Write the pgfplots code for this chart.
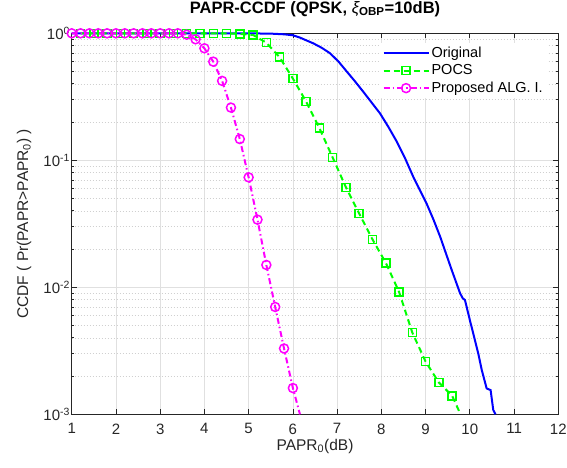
\documentclass[border=0pt]{standalone}
\usepackage{pgfplots}
\pgfplotsset{compat=1.18}
\usepackage{fontspec}
\setmainfont{Liberation Sans}
\definecolor{axgray}{HTML}{262626}
\definecolor{gridmaj}{HTML}{E0E0E0}
\definecolor{gridmin}{HTML}{D0D0D0}
\definecolor{mblue}{rgb}{0,0,1}
\definecolor{mgreen}{rgb}{0,1,0}
\definecolor{mmag}{rgb}{1,0,1}
\begin{document}
\begin{tikzpicture}
\useasboundingbox (-71.7pt,-52.7pt) rectangle (495.3pt,414.3pt);
\begin{axis}[
  at={(0pt,0pt)}, anchor=south west,
  scale only axis, width=486.6pt, height=381pt,
  xmin=1, xmax=12, ymin=1e-3, ymax=1,
  ymode=log,
  clip=false,
  /pgf/number format/assume math mode=true,
  xtick={1,2,3,4,5,6,7,8,9,10,11,12},
  ytick={0.001,0.01,0.1,1},
  yticklabels={10\textsuperscript{-3},10\textsuperscript{-2},10\textsuperscript{-1},10\textsuperscript{0}},
  minor ytick={0.002,0.003,0.004,0.005,0.006,0.007,0.008,0.009,0.02,0.03,0.04,0.05,0.06,0.07,0.08,0.09,0.2,0.3,0.4,0.5,0.6,0.7,0.8,0.9},
  grid=both,
  major grid style={draw=gridmaj, line width=0.7pt},
  minor grid style={draw=gridmin, line width=0.6pt, dash pattern=on 0.6pt off 2.4pt},
  axis line style={draw=axgray, line width=0.8pt},
  tick align=inside,
  major tick length=5pt, minor tick length=2.5pt,
  tick style={draw=axgray, line width=0.7pt},
  tick label style={font=\fontsize{15}{17}\selectfont, text=axgray},
  xticklabel style={yshift=-5.7pt},
  yticklabel style={inner sep=1.5pt},
  xlabel={PAPR\textsubscript{0}(dB)},
  xlabel style={at={(axis description cs:0.5,-0.0937)}, anchor=base, font=\fontsize{15.5}{17}\selectfont, text=axgray},
  ylabel={CCDF ( Pr(PAPR>PAPR\textsubscript{0}) )},
  ylabel style={at={(axis description cs:-0.0898,0.5)}, rotate=0, anchor=base, font=\fontsize{15.5}{17}\selectfont, text=axgray},
  title={PAPR-CCDF (QPSK,~{\mdseries\itshape ξ}\textsubscript{OBP}=10dB)},
  title style={at={(axis description cs:0.5,1.0367)}, anchor=base, font=\fontsize{16.5}{18}\selectfont\bfseries, text=black},
  legend style={at={(axis description cs:0.9788,0.974)}, anchor=north east, draw=none, fill=white,
    font=\fontsize{14.5}{16}\selectfont, inner xsep=3pt, inner ysep=1.5pt, row sep=1.8pt,
    nodes={inner sep=2pt}},
  legend cell align=left,
  legend image code/.code={\draw[mark repeat=2,mark phase=2,#1,mark indices={2}] plot coordinates {(0pt,0pt) (22.5pt,0pt) (45pt,0pt)};},
]
% Original
\addplot[color=mblue, line width=2pt, no marks] coordinates {
(1,1) (4,1) (5,0.999) (5.5,0.994) (5.8,0.982) (6.0,0.965) (6.16,0.925) (6.46,0.834) (6.65,0.77) (6.84,0.696)
(7.03,0.60) (7.22,0.499) (7.4,0.42) (7.59,0.347) (7.78,0.285) (7.97,0.234) (8.16,0.183) (8.35,0.140) (8.54,0.103) (8.72,0.0743) (9.02,0.0459)
(9.18,0.034) (9.33,0.0250) (9.46,0.0185) (9.59,0.0137) (9.78,0.00897) (9.84,0.0082) (9.89,0.00794) (10.00,0.00553)
(10.19,0.00302) (10.27,0.00223) (10.38,0.0016) (10.47,0.00155) (10.53,0.00108) (10.58,0.001)
};
\addlegendentry{Original}
% POCS
\addplot[color=mgreen, line width=2pt, dash pattern=on 6pt off 4pt,
  mark=square, mark size=4pt, mark options={solid, line width=1.5pt, fill=none},
  mark indices={1,2,3,4,5,6,7,8,9,10,11,12,13,14,15,16,17,18,19,20,21,22,23,24,25,26,27,28,29}] coordinates {
(1.2,1) (1.5,1) (1.8,1) (2.1,1) (2.4,1) (2.7,1) (3.0,1) (3.3,1) (3.6,1) (3.9,1)
(4.2,1) (4.5,0.999) (4.8,0.99) (5.1,0.97) (5.4,0.843) (5.7,0.648) (6.0,0.44)
(6.3,0.29) (6.6,0.179) (6.9,0.105) (7.2,0.0612) (7.5,0.038) (7.8,0.0238)
(8.1,0.0156) (8.4,0.0092) (8.7,0.0044) (9.0,0.0026) (9.3,0.00178) (9.6,0.0014)
(9.79,0.001)
};
\addlegendentry{POCS}
% Proposed
\addplot[color=mmag, line width=2pt, dash pattern=on 6pt off 3pt on 1.5pt off 3pt,
  mark=o, mark size=4.5pt, mark options={solid, line width=1.5pt},
  mark indices={1,2,3,4,5,6,7,8,9,10,11,12,13,14,15,16,17,18,19,20,21,22,23,24,25,26}] coordinates {
(1.0,1) (1.2,1) (1.4,1) (1.6,1) (1.8,1) (2.0,1) (2.2,1) (2.4,1) (2.6,1) (2.8,1)
(3.0,1) (3.2,1) (3.4,1) (3.6,0.975) (3.8,0.897) (4.0,0.762) (4.2,0.598) (4.4,0.422)
(4.6,0.26) (4.8,0.147) (5.0,0.0734) (5.2,0.0341) (5.4,0.0150) (5.6,0.0070)
(5.8,0.0033) (6.0,0.00161) (6.16,0.001)
};
\addlegendentry{Proposed ALG. I.}
\end{axis}
\end{tikzpicture}
\end{document}
